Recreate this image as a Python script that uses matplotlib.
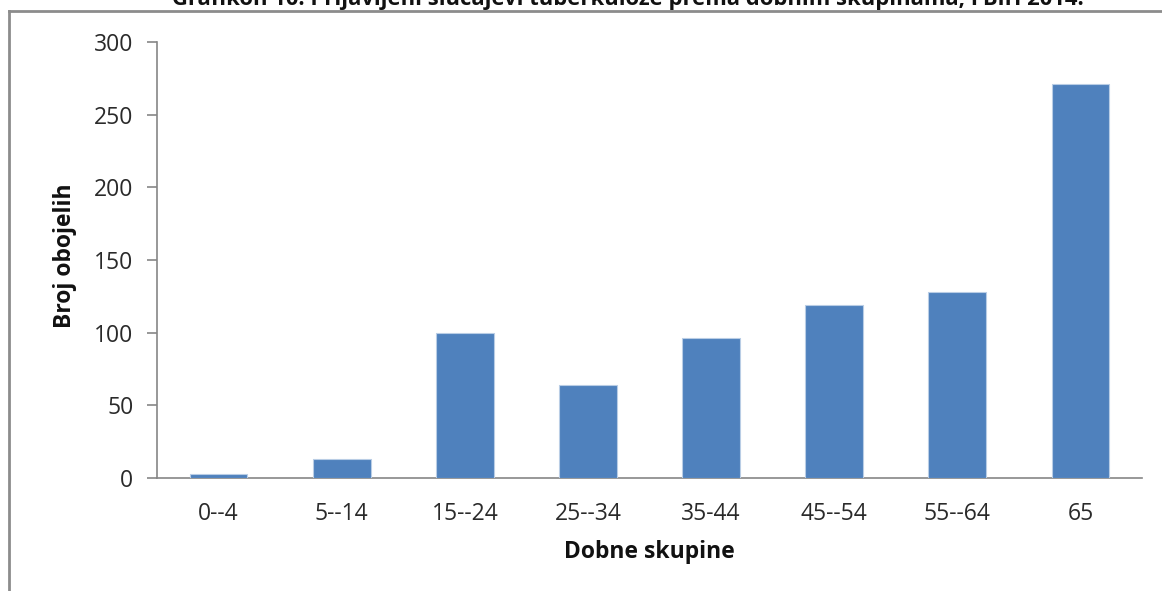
import matplotlib
matplotlib.use("Agg")
import matplotlib.pyplot as plt
from matplotlib.lines import Line2D

categories = ["0--4", "5--14", "15--24", "25--34", "35-44", "45--54", "55--64", "65"]
values = [3, 13, 100, 64, 96, 119, 128, 271]
yticks = [0, 50, 100, 150, 200, 250, 300]
title = "Grafikon 10. Prijavljeni slučajevi tuberkuloze prema dobnim skupinama, FBiH 2014."

plt.rcParams['font.family'] = ['Open Sans', 'DejaVu Sans']

W, H = 1162, 591
fig = plt.figure(figsize=(W / 100, H / 100), dpi=100)
ax = fig.add_axes([157 / W, 1 - 478 / H, (1142 - 157) / W, (478 - 42) / H])

x = list(range(len(categories)))
ax.bar(x, values, width=0.47, color="#4F81BD", edgecolor="#B9CDE5", linewidth=0.8, zorder=3)
ax.set_xlim(-0.5, len(categories) - 0.5)
ax.set_ylim(0, 300)
ax.set_yticks(yticks)
ax.set_xticks(x)
ax.set_xticklabels(categories, fontsize=16.5, color="#2a2a2a")
ax.set_yticklabels([str(v) for v in yticks], fontsize=16.5, color="#2a2a2a")

axis_color = "#868686"
for s in ["top", "right"]:
    ax.spines[s].set_visible(False)
ax.spines["left"].set_color(axis_color)
ax.spines["bottom"].set_color(axis_color)
ax.spines["left"].set_linewidth(1.2)
ax.spines["bottom"].set_linewidth(1.2)
ax.tick_params(axis="y", direction="out", length=7, color=axis_color, width=1.2, pad=10)
ax.tick_params(axis="x", length=0, pad=17)

ax.set_xlabel("Dobne skupine", fontsize=16.5, fontweight="bold", labelpad=12, color="#111111")
ax.set_ylabel("Broj obojelih", fontsize=16.5, fontweight="bold", labelpad=12, color="#111111")
ax.xaxis.set_label_coords(0.5, -(552 - 478) / (478 - 42), transform=ax.transAxes)
ax.yaxis.set_label_coords(-(157 - 65) / (1142 - 157), 1 - (256 - 42) / (478 - 42), transform=ax.transAxes)
ax.xaxis.label.set_va("center")
ax.yaxis.label.set_va("center")

# outer chart frame (top and left edges)
fig.add_artist(Line2D([9 / W, 1], [1 - 11 / H, 1 - 11 / H], transform=fig.transFigure,
                      color="#8C8C8C", linewidth=2))
fig.add_artist(Line2D([9 / W, 9 / W], [0, 1 - 11 / H], transform=fig.transFigure,
                      color="#8C8C8C", linewidth=2))

# title (partially cropped at the top in the reference)
fig.text(628 / W, 1 + 1 / H, title, ha="center", va="center", fontsize=15.8,
         fontweight="bold", color="#111111")

fig.savefig("out.png", dpi=100)
